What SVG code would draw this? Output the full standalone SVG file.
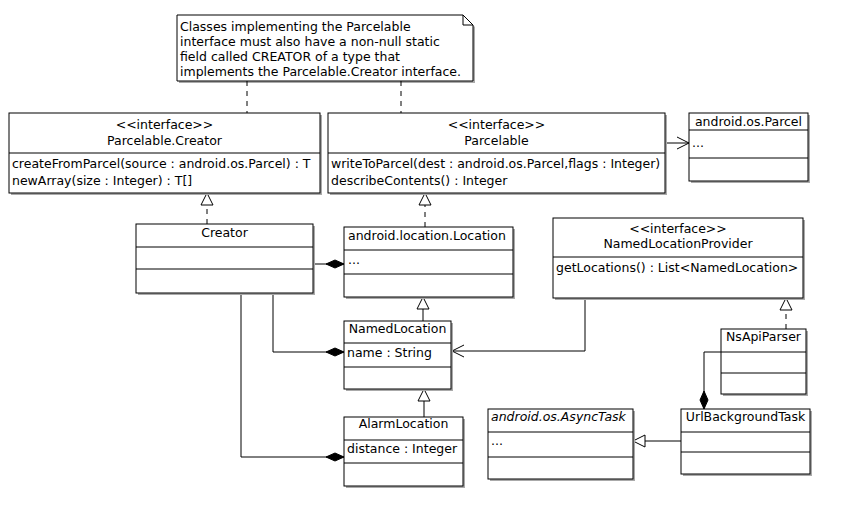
<svg xmlns="http://www.w3.org/2000/svg" width="841" height="514" viewBox="0 0 841 514">
<style>
text{font-family:"DejaVu Sans","Liberation Sans",sans-serif;font-size:12.5px;fill:#000}
.c{text-anchor:middle}
.i{font-style:italic}
.sh{fill:#aaa;stroke:none}
.bx{fill:#fff;stroke:#000;stroke-width:1}
.ln{stroke:#000;stroke-width:1;fill:none}
.ds{stroke:#000;stroke-width:1;fill:none;stroke-dasharray:5,5}
</style>
<defs>
<marker id="tri" viewBox="0 0 14 14" refX="13" refY="7" markerWidth="14" markerHeight="14" markerUnits="userSpaceOnUse" orient="auto"><path d="M1,1 L13,7 L1,13 Z" fill="#fff" stroke="#000"/></marker>
<marker id="open" viewBox="0 0 14 14" refX="13" refY="7" markerWidth="14" markerHeight="14" markerUnits="userSpaceOnUse" orient="auto"><path d="M1,1 L13,7 L1,13" fill="none" stroke="#000"/></marker>
<marker id="dia" viewBox="0 0 20 10" refX="19" refY="5" markerWidth="20" markerHeight="10" markerUnits="userSpaceOnUse" orient="auto"><path d="M1,5 L10,1 L19,5 L10,9 Z" fill="#000" stroke="#000"/></marker>
</defs>

<g id="note">
<path class="sh" d="M179,17 H465 L475,27 V83 H179 Z"/>
<path class="bx" d="M177,15 H463 L473,25 V81 H177 Z"/>
<path class="ln" d="M463,15 V25 H473"/>
<text x="180" y="31">Classes implementing the Parcelable</text>
<text x="180" y="46">interface must also have a non-null static</text>
<text x="180" y="61">field called CREATOR of a type that</text>
<text x="180" y="76">implements the Parcelable.Creator interface.</text>
</g>

<g id="connectors">
<path class="ds" d="M247,81 V113"/>
<path class="ds" d="M401,81 V113"/>
<path class="ln" d="M665,143 H689" marker-end="url(#open)"/>
<path class="ds" d="M207,224 V193" marker-end="url(#tri)"/>
<path class="ds" d="M425,227 V193" marker-end="url(#tri)"/>
<path class="ln" d="M313,264 H344" marker-end="url(#dia)"/>
<path class="ln" d="M423,321 V297" marker-end="url(#tri)"/>
<path class="ln" d="M424,417 V389" marker-end="url(#tri)"/>
<path class="ln" d="M273,293 V352 H344" marker-end="url(#dia)"/>
<path class="ln" d="M241,293 V457 H344" marker-end="url(#dia)"/>
<path class="ln" d="M585,298 V351 H452" marker-end="url(#open)"/>
<path class="ds" d="M786,329 V298" marker-end="url(#tri)"/>
<path class="ln" d="M721,352 H704 V409" marker-end="url(#dia)"/>
<path class="ln" d="M681,441 H633" marker-end="url(#tri)"/>
</g>

<g id="ParcelableCreator">
<rect class="sh" x="11" y="115" width="311" height="80"/>
<rect class="bx" x="9" y="113" width="311" height="80"/>
<line class="ln" x1="9" y1="153" x2="320" y2="153"/>
<text class="c" x="164.5" y="129">&lt;&lt;interface&gt;&gt;</text>
<text class="c" x="164.5" y="145">Parcelable.Creator</text>
<text x="12" y="168">createFromParcel(source : android.os.Parcel) : T</text>
<text x="12" y="185">newArray(size : Integer) : T[]</text>
</g>

<g id="Parcelable">
<rect class="sh" x="330" y="115" width="337" height="80"/>
<rect class="bx" x="328" y="113" width="337" height="80"/>
<line class="ln" x1="328" y1="153" x2="665" y2="153"/>
<text class="c" x="496.5" y="129">&lt;&lt;interface&gt;&gt;</text>
<text class="c" x="496.5" y="145">Parcelable</text>
<text x="331" y="168">writeToParcel(dest : android.os.Parcel,flags : Integer)</text>
<text x="331" y="185">describeContents() : Integer</text>
</g>

<g id="Parcel">
<rect class="sh" x="691" y="115" width="119" height="68"/>
<rect class="bx" x="689" y="113" width="119" height="68"/>
<line class="ln" x1="689" y1="130" x2="808" y2="130"/>
<line class="ln" x1="689" y1="158" x2="808" y2="158"/>
<text class="c" x="748.5" y="126">android.os.Parcel</text>
<text x="692" y="147">...</text>
</g>

<g id="Creator">
<rect class="sh" x="138" y="226" width="177" height="69"/>
<rect class="bx" x="136" y="224" width="177" height="69"/>
<line class="ln" x1="136" y1="247" x2="313" y2="247"/>
<line class="ln" x1="136" y1="269" x2="313" y2="269"/>
<text class="c" x="224.5" y="237">Creator</text>
</g>

<g id="Location">
<rect class="sh" x="346" y="229" width="169" height="70"/>
<rect class="bx" x="344" y="227" width="169" height="70"/>
<line class="ln" x1="344" y1="250" x2="513" y2="250"/>
<line class="ln" x1="344" y1="274" x2="513" y2="274"/>
<text x="348" y="240">android.location.Location</text>
<text x="348" y="264">...</text>
</g>

<g id="NamedLocationProvider">
<rect class="sh" x="555" y="220" width="250" height="80"/>
<rect class="bx" x="553" y="218" width="250" height="80"/>
<line class="ln" x1="553" y1="257" x2="803" y2="257"/>
<text class="c" x="678" y="233">&lt;&lt;interface&gt;&gt;</text>
<text class="c" x="678" y="248">NamedLocationProvider</text>
<text x="556" y="272">getLocations() : List&lt;NamedLocation&gt;</text>
</g>

<g id="NamedLocation">
<rect class="sh" x="346" y="323" width="107" height="68"/>
<rect class="bx" x="344" y="321" width="107" height="68"/>
<line class="ln" x1="344" y1="343" x2="451" y2="343"/>
<line class="ln" x1="344" y1="367" x2="451" y2="367"/>
<text class="c" x="397.5" y="333">NamedLocation</text>
<text x="347" y="357">name : String</text>
</g>

<g id="AlarmLocation">
<rect class="sh" x="346" y="419" width="119" height="69"/>
<rect class="bx" x="344" y="417" width="119" height="69"/>
<line class="ln" x1="344" y1="440" x2="463" y2="440"/>
<line class="ln" x1="344" y1="463" x2="463" y2="463"/>
<text class="c" x="403.5" y="428">AlarmLocation</text>
<text x="347" y="453">distance : Integer</text>
</g>

<g id="AsyncTask">
<rect class="sh" x="490" y="411" width="145" height="70"/>
<rect class="bx" x="488" y="409" width="145" height="70"/>
<line class="ln" x1="488" y1="432" x2="633" y2="432"/>
<line class="ln" x1="488" y1="457" x2="633" y2="457"/>
<text class="i" x="491" y="421">android.os.AsyncTask</text>
<text x="491" y="445">...</text>
</g>

<g id="UrlBackgroundTask">
<rect class="sh" x="683" y="411" width="129" height="65"/>
<rect class="bx" x="681" y="409" width="129" height="65"/>
<line class="ln" x1="681" y1="432" x2="810" y2="432"/>
<line class="ln" x1="681" y1="452" x2="810" y2="452"/>
<text class="c" x="745.5" y="421">UrlBackgroundTask</text>
</g>

<g id="NsApiParser">
<rect class="sh" x="723" y="331" width="85" height="65"/>
<rect class="bx" x="721" y="329" width="85" height="65"/>
<line class="ln" x1="721" y1="352" x2="806" y2="352"/>
<line class="ln" x1="721" y1="373" x2="806" y2="373"/>
<text class="c" x="763.5" y="341">NsApiParser</text>
</g>
</svg>
